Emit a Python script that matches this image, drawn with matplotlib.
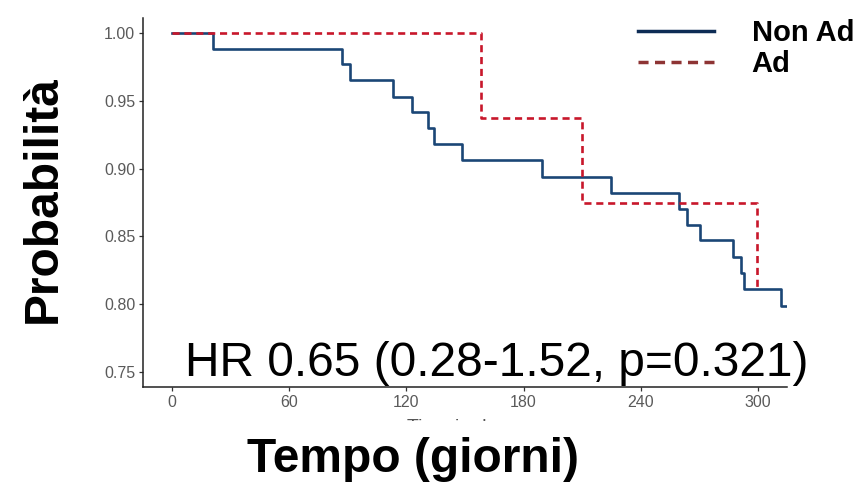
import matplotlib
matplotlib.use("Agg")
import matplotlib.pyplot as plt
from matplotlib.lines import Line2D
from matplotlib.patches import Rectangle

plt.rcParams['font.family'] = ['Liberation Sans', 'DejaVu Sans']

# Data (Kaplan-Meier steps)
non_ad_times = [0, 21, 87, 91, 113, 123, 131, 134, 148.5, 189.5, 225, 259.5, 264, 270.5, 287.5, 291.5, 293, 312]
non_ad_surv = [1.0, 0.9885, 0.977, 0.965, 0.953, 0.9415, 0.930, 0.918, 0.906, 0.894, 0.882, 0.8705, 0.8585, 0.847, 0.835, 0.823, 0.811, 0.7985]
non_ad_end = 315

ad_times = [0, 158, 210, 299.5]
ad_surv = [1.0, 0.9375, 0.875, 0.8125]
ad_end = 299.5

x_ticks = [0, 60, 120, 180, 240, 300]
y_ticks = [0.75, 0.80, 0.85, 0.90, 0.95, 1.00]
y_ticklabels = ["0.75", "0.80", "0.85", "0.90", "0.95", "1.00"]
labels = ["Non Ad", "Ad"]
hr_text = "HR 0.65 (0.28-1.52, p=0.321)"

W, H = 867, 486
fig = plt.figure(figsize=(W / 100, H / 100), dpi=100)
ax = fig.add_axes([143 / W, 1 - 387 / H, (787 - 143) / W, (387 - 18) / H])

blue = "#1b4676"
red = "#c8172b"

ax.step(non_ad_times + [non_ad_end], non_ad_surv + [non_ad_surv[-1]], where="post",
        color=blue, lw=1.9, zorder=3)
ax.step(ad_times + [ad_end], ad_surv + [ad_surv[-1]], where="post",
        color=red, lw=1.9, linestyle=(0, (2.7, 1.8)), zorder=4)

ax.set_xlim(-15, 315)
ax.set_ylim(0.739, 1.011)
ax.set_xticks(x_ticks)
ax.set_yticks(y_ticks)
ax.set_yticklabels(y_ticklabels)
for s in ["top", "right"]:
    ax.spines[s].set_visible(False)
for s in ["left", "bottom"]:
    ax.spines[s].set_linewidth(1.1)
    ax.spines[s].set_color("#222222")
ax.tick_params(axis="both", labelsize=11.5, labelcolor="#5a5a5a", color="#333333",
               length=3, width=0.9, pad=2.5)

# HR annotation
ax.text(0.55, 0.03, hr_text, transform=ax.transAxes, ha="center", va="baseline",
        fontsize=34.5, color="black", zorder=5)

# Partially hidden original axis title
fig.text(462 / W, 1 - 427 / H, "Time in days", ha="center", va="center",
         fontsize=14, color="#555555", zorder=1)
fig.patches.append(Rectangle((0, 0), 1, 1 - 421 / H, transform=fig.transFigure,
                             facecolor="white", edgecolor="none", zorder=2))

# Big axis titles
fig.text(413 / W, 1 - 472 / H, "Tempo (giorni)", ha="center", va="baseline",
         fontsize=34.5, fontweight="bold", zorder=3)
fig.text(43 / W, 1 - 199 / H, "Probabilità", ha="center", va="center", rotation=90,
         fontsize=34.5, fontweight="bold", zorder=3)

# Legend (outside, top right)
handles = [Line2D([], [], color="#0d2c55", lw=2.5),
           Line2D([], [], color="#8e3434", lw=2.5, linestyle=(0, (2.9, 1.85)))]
leg = fig.legend(handles, labels, loc="upper left", bbox_to_anchor=(638 / W, 1 - 19 / H),
                 frameon=False, prop={"weight": "bold", "size": 21}, handlelength=2.6,
                 handletextpad=1.3, labelspacing=0.1, borderpad=0, borderaxespad=0)

fig.savefig("out.png", dpi=100, facecolor="white")
